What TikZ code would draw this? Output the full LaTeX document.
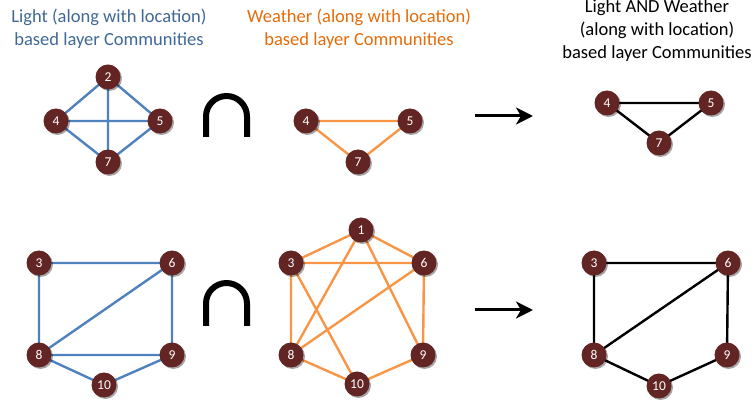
\documentclass[tikz,border=0pt]{standalone}
\usepackage{fontspec}
\setmainfont{Carlito}
\usetikzlibrary{arrows.meta,shadows,backgrounds}
\definecolor{nodefill}{RGB}{99,37,35}
\definecolor{blueedge}{RGB}{79,129,189}
\definecolor{orangeedge}{RGB}{247,150,70}
\definecolor{bluetext}{RGB}{64,104,150}
\definecolor{orangetext}{RGB}{228,108,10}
\tikzset{
  vert/.style={circle,fill=nodefill,text=white,minimum size=25pt,inner sep=0pt,
    font=\fontsize{13.5}{14}\selectfont,
    drop shadow={shadow xshift=1.5pt,shadow yshift=-1.5pt,opacity=0.35,fill=black}},
  bedge/.style={draw=blueedge,line width=2.4pt},
  oedge/.style={draw=orangeedge,line width=2.4pt},
  kedge/.style={draw=black,line width=2.4pt},
  title/.style={align=center,font=\fontsize{18.5}{23}\selectfont},
  bigarrow/.style={line width=3pt,-{Stealth[length=17pt,width=17pt,inset=5pt]}},
  capsym/.style={line width=6pt}
}
\begin{document}
\begin{tikzpicture}[x=1pt,y=-1pt]
\useasboundingbox (0,0) rectangle (756,403);
% titles
\node[title,text=bluetext] (t1) at (109,29) {Light (along with location)\\based layer Communities};
\node[title,text=orangetext] (t2) at (359,29) {Weather (along with location)\\based layer Communities};
\node[title,text=black] (t3) at (657,31) {Light AND Weather\\(along with location)\\based layer Communities};
% top-left graph
\node[vert] (a2) at (108,77) {2};
\node[vert] (a4) at (56,121) {4};
\node[vert] (a5) at (160,121) {5};
\node[vert] (a7) at (108,162) {7};
% top-middle
\node[vert] (b4) at (306,121) {4};
\node[vert] (b5) at (410,121) {5};
\node[vert] (b7) at (358,162) {7};
% top-right
\node[vert] (c4) at (607,103) {4};
\node[vert] (c5) at (711,103) {5};
\node[vert] (c7) at (659,143) {7};
% bottom-left
\node[vert] (d3) at (39,263) {3};
\node[vert] (d6) at (172,263) {6};
\node[vert] (d8) at (39,355) {8};
\node[vert] (d9) at (172,355) {9};
\node[vert] (d10) at (104,385) {10};
% bottom-middle
\node[vert] (e1) at (361,230) {1};
\node[vert] (e3) at (291,263) {3};
\node[vert] (e6) at (424,263) {6};
\node[vert] (e8) at (291,355) {8};
\node[vert] (e9) at (423,355) {9};
\node[vert] (e10) at (357,384) {10};
% bottom-right
\node[vert] (f3) at (594,263) {3};
\node[vert] (f6) at (728,263) {6};
\node[vert] (f8) at (594,355) {8};
\node[vert] (f9) at (727,355) {9};
\node[vert] (f10) at (659,386) {10};
\begin{scope}[on background layer]
\draw[bedge] (a2.center) -- (a4.center) (a2.center) -- (a5.center) (a2.center) -- (a7.center)
  (a4.center) -- (a5.center) (a4.center) -- (a7.center) (a5.center) -- (a7.center);
\draw[oedge] (b4.center) -- (b5.center) (b4.center) -- (b7.center) (b5.center) -- (b7.center);
\draw[kedge] (c4.center) -- (c5.center) (c4.center) -- (c7.center) (c5.center) -- (c7.center);
\draw[bedge] (d3.center) -- (d6.center) (d3.center) -- (d8.center) (d6.center) -- (d8.center)
  (d6.center) -- (d9.center) (d8.center) -- (d9.center) (d8.center) -- (d10.center) (d9.center) -- (d10.center);
\draw[oedge] (e1.center) -- (e3.center) (e1.center) -- (e6.center) (e3.center) -- (e6.center)
  (e3.center) -- (e8.center) (e1.center) -- (e8.center) (e1.center) -- (e9.center)
  (e3.center) -- (e10.center) (e6.center) -- (e8.center) (e6.center) -- (e9.center)
  (e8.center) -- (e10.center) (e9.center) -- (e10.center);
\draw[kedge] (f3.center) -- (f6.center) (f3.center) -- (f8.center) (f6.center) -- (f8.center)
  (f6.center) -- (f9.center) (f8.center) -- (f10.center) (f9.center) -- (f10.center);
\end{scope}
% intersection symbols
\draw[capsym] (206,137) -- (206,116.5) arc[start angle=180,end angle=360,radius=20.5] -- (247,137);
\draw[capsym] (206,326) -- (206,303.5) arc[start angle=180,end angle=360,radius=20.5] -- (247,326);
% arrows
\coordinate (p1) at (475,116);
\coordinate (q1) at (533,116);
\coordinate (p2) at (475,310);
\coordinate (q2) at (533,310);
\draw[bigarrow] (p1) -- (q1);
\draw[bigarrow] (p2) -- (q2);
\end{tikzpicture}
\end{document}
